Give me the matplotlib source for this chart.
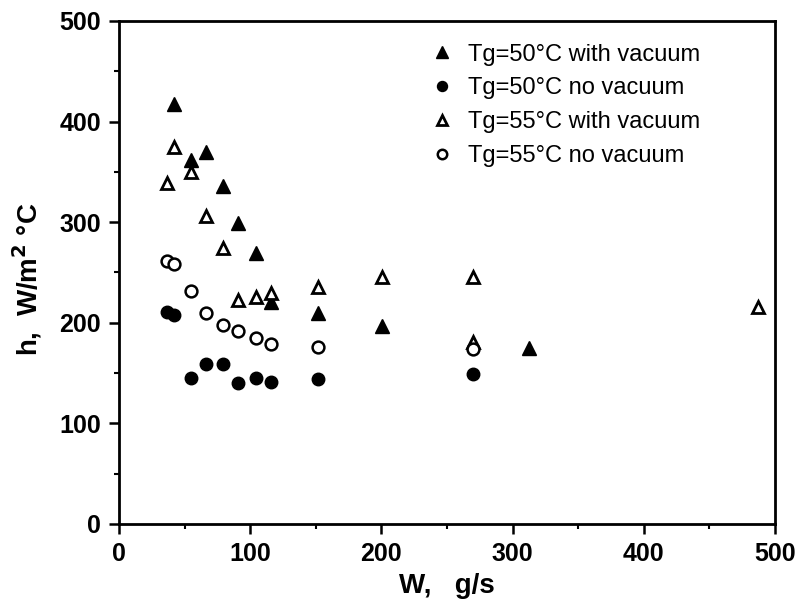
import numpy as np
import matplotlib
matplotlib.use("Agg")
import matplotlib.pyplot as plt
from matplotlib.ticker import MultipleLocator

plt.rcParams['font.family'] = ['Liberation Sans', 'DejaVu Sans']

# Tg=50°C with vacuum (filled triangles)
w_50v = [41.9, 54.9, 66.3, 79.5, 90.9, 104.2, 115.6, 151.7, 200.2, 312.7]
h_50v = [417.5, 361.8, 370, 336, 299, 269, 221, 210, 197, 174.7]

# Tg=50°C no vacuum (filled circles)
w_50n = [36.4, 41.9, 54.9, 66.3, 79.5, 90.9, 104.2, 115.6, 151.7, 270]
h_50n = [211, 207.8, 145.4, 158.7, 158.7, 139.9, 145.4, 141.5, 144, 148.8]

# Tg=55°C with vacuum (open triangles)
w_55v = [36.4, 41.9, 54.9, 66.3, 79.5, 90.9, 104.2, 115.6, 151.7, 200.2, 270, 270, 487.3]
h_55v = [338.7, 375, 350, 306, 274, 222.7, 225.3, 229.3, 235.6, 245.8, 245.8, 181.2, 215.4]

# Tg=55°C no vacuum (open circles)
w_55n = [36.4, 41.9, 54.9, 66.3, 79.5, 90.9, 104.2, 115.6, 151.7, 270]
h_55n = [261.4, 258, 231.6, 209.4, 197.8, 192, 184.6, 179, 176.2, 173.7]

labels = ['Tg=50°C with vacuum', 'Tg=50°C no vacuum',
          'Tg=55°C with vacuum', 'Tg=55°C no vacuum']

fig = plt.figure(figsize=(8.02, 6.05), dpi=100)
ax = fig.add_axes([0.1484, 0.1339, 0.8179, 0.8314])

ax.plot(w_50v, h_50v, ls='none', marker='^', ms=10, color='black', label=labels[0])
ax.plot(w_50n, h_50n, ls='none', marker='o', ms=9, color='black', label=labels[1])
ax.plot(w_55v, h_55v, ls='none', marker='^', ms=8.5, mfc='white', mec='black', mew=2, label=labels[2])
ax.plot(w_55n, h_55n, ls='none', marker='o', ms=8.5, mfc='white', mec='black', mew=1.8, label=labels[3])

ax.set_xlim(0, 500)
ax.set_ylim(0, 500)
ax.xaxis.set_major_locator(MultipleLocator(100))
ax.xaxis.set_minor_locator(MultipleLocator(50))
ax.yaxis.set_major_locator(MultipleLocator(100))
ax.yaxis.set_minor_locator(MultipleLocator(50))
ax.tick_params(which='major', direction='out', length=7, width=1.8, labelsize=18, pad=6)
ax.tick_params(which='minor', direction='out', length=3.5, width=1.5)
for lab in ax.get_xticklabels() + ax.get_yticklabels():
    lab.set_fontweight('bold')
for sp in ax.spines.values():
    sp.set_linewidth(2)

ax.set_xlabel('W,   g/s', fontsize=20, fontweight='bold', labelpad=5)
ax.set_ylabel('h,  W/m$^{\\bf 2}$ °C', fontsize=20, fontweight='bold')
ax.yaxis.set_label_coords(-0.115, 0.487)

leg = ax.legend(loc='upper left', bbox_to_anchor=(0.46, 0.974), borderaxespad=0,
                frameon=False, fontsize=17, handletextpad=0.6,
                labelspacing=0.5, markerscale=0.8, handlelength=1.0)

fig.savefig('out.png', dpi=100)
